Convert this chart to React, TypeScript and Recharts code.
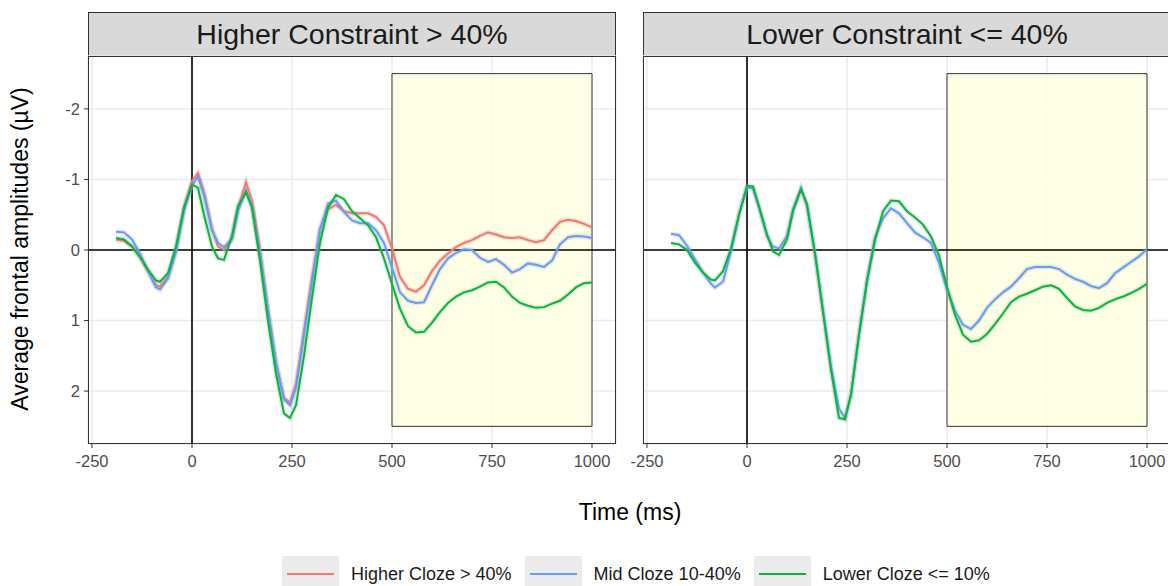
import React from "react";
import {
  LineChart,
  Line,
  XAxis,
  YAxis,
  CartesianGrid,
  ReferenceArea,
  ReferenceLine,
} from "recharts";

// time points (ms)
const TIMES = [
  -190, -170, -150, -130, -110, -90, -80, -60, -40, -20,
  0, 15, 30, 50, 65, 80, 100, 115, 135, 150,
  170, 190, 210, 230, 245, 260, 280, 300, 320, 340,
  360, 380, 400, 420, 440, 460, 480, 500, 520, 540,
  560, 580, 600, 620, 640, 660, 680, 700, 720, 740,
  760, 780, 800, 820, 840, 860, 880, 900, 920, 940,
  960, 980, 1000,
];

// Higher Constraint panel
const HC_HIGHER = [
  -0.15, -0.13, -0.05, 0.1, 0.3, 0.5, 0.52, 0.38, 0.0, -0.6,
  -0.98, -1.09, -0.82, -0.3, -0.05, 0.0, -0.17, -0.6, -0.96, -0.7,
  0.0, 0.85, 1.6, 2.1, 2.16, 1.9, 1.15, 0.4, -0.3, -0.58,
  -0.64, -0.55, -0.52, -0.52, -0.52, -0.47, -0.35, -0.02, 0.38, 0.55,
  0.59, 0.5, 0.3, 0.15, 0.05, -0.04, -0.1, -0.14, -0.2, -0.25,
  -0.22, -0.18, -0.17, -0.18, -0.14, -0.11, -0.14, -0.28, -0.4, -0.43,
  -0.41, -0.37, -0.32,
];
const HC_MID = [
  -0.26, -0.25, -0.15, 0.05, 0.3, 0.53, 0.56, 0.4, 0.02, -0.56,
  -0.92, -1.04, -0.78, -0.28, -0.1, -0.04, -0.15, -0.55, -0.85, -0.62,
  0.05, 0.85, 1.6, 2.12, 2.2, 1.95, 1.2, 0.45, -0.28, -0.66,
  -0.7, -0.54, -0.42, -0.38, -0.38, -0.28, -0.1, 0.25, 0.6, 0.72,
  0.75, 0.74, 0.5, 0.27, 0.12, 0.04, -0.01, 0.0, 0.11, 0.17,
  0.13, 0.21, 0.32, 0.27, 0.19, 0.21, 0.24, 0.15, -0.08, -0.18,
  -0.2, -0.19, -0.17,
];
const HC_LOWER = [
  -0.17, -0.15, -0.05, 0.1, 0.28, 0.43, 0.45, 0.33, -0.05, -0.6,
  -0.93, -0.88, -0.5, -0.05, 0.12, 0.14, -0.2, -0.62, -0.82, -0.6,
  0.15, 1.0, 1.75, 2.32, 2.38, 2.2, 1.5, 0.68, -0.1, -0.6,
  -0.78, -0.72, -0.55, -0.45, -0.35, -0.18, 0.12, 0.48, 0.83, 1.08,
  1.17, 1.16, 1.03, 0.88, 0.75, 0.66, 0.6, 0.57, 0.52, 0.46,
  0.45, 0.53, 0.66, 0.75, 0.79, 0.82, 0.81, 0.76, 0.72, 0.63,
  0.53, 0.47, 0.46,
];

// Lower Constraint panel
const LC_MID = [
  -0.23, -0.21, -0.06, 0.13, 0.32, 0.48, 0.53, 0.45, 0.02, -0.5,
  -0.89, -0.87, -0.6, -0.2, -0.05, -0.02, -0.2, -0.58, -0.88, -0.62,
  0.05, 0.85, 1.65, 2.25, 2.38, 2.05, 1.2, 0.42, -0.18, -0.45,
  -0.59, -0.52, -0.38, -0.25, -0.18, -0.1, 0.18, 0.57, 0.86, 1.06,
  1.12, 1.0, 0.82, 0.7, 0.6, 0.52, 0.4, 0.27, 0.24, 0.24,
  0.24, 0.27, 0.35, 0.41, 0.45, 0.51, 0.54, 0.47, 0.33, 0.25,
  0.17, 0.09, -0.01,
];
const LC_LOWER = [
  -0.1, -0.08, 0.0, 0.18, 0.32, 0.42, 0.43, 0.3, -0.02, -0.5,
  -0.91, -0.9, -0.62, -0.22, 0.02, 0.07, -0.15, -0.55, -0.86, -0.65,
  0.05, 0.88, 1.7, 2.38, 2.4, 2.05, 1.2, 0.45, -0.14, -0.55,
  -0.7, -0.69, -0.55, -0.46, -0.36, -0.19, 0.08, 0.52, 0.92, 1.2,
  1.3, 1.28, 1.19, 1.05, 0.9, 0.74, 0.66, 0.62, 0.57, 0.52,
  0.5, 0.55, 0.68, 0.8, 0.85, 0.86, 0.82, 0.75, 0.7, 0.66,
  0.61, 0.55, 0.48,
];

const X_TICKS = [-250, 0, 250, 500, 750, 1000];
const Y_TICKS = [-2, -1, 0, 1, 2];

const SERIES = [
  { key: "higher", name: "Higher Cloze > 40%", color: "#F8766D" },
  { key: "mid", name: "Mid Cloze 10-40%", color: "#619CFF" },
  { key: "lower", name: "Lower Cloze <= 10%", color: "#00BA38" },
];

const FONT = "'Liberation Sans', Arial, Helvetica, sans-serif";

const leftData = TIMES.map((t, i) => ({
  t,
  higher: HC_HIGHER[i],
  mid: HC_MID[i],
  lower: HC_LOWER[i],
}));
const rightData = TIMES.map((t, i) => ({
  t,
  mid: LC_MID[i],
  lower: LC_LOWER[i],
}));

const PLOT_TOP = 56;
const PLOT_W = 528;
const PLOT_H = 388;

function Panel({
  title,
  data,
  keys,
  plotLeft,
  showY,
}: {
  title: string;
  data: any[];
  keys: string[];
  plotLeft: number;
  showY: boolean;
}) {
  const chartLeft = plotLeft - 88;
  return (
    <>
      <div
        style={{
          position: "absolute",
          left: plotLeft,
          top: 12,
          width: PLOT_W,
          height: 45,
          boxSizing: "border-box",
          border: "1px solid #333",
          background: "#d9d9d9",
          display: "flex",
          alignItems: "center",
          justifyContent: "center",
          fontSize: 28.5,
          color: "#1a1a1a",
          fontFamily: FONT,
        }}
      >
        {title}
      </div>
      <div style={{ position: "absolute", left: chartLeft, top: 0 }}>
        <LineChart
          width={88 + PLOT_W + 4}
          height={PLOT_TOP + PLOT_H + 40}
          data={data}
          margin={{ top: PLOT_TOP, right: 4, left: showY ? 0 : 88, bottom: 0 }}
        >
          <CartesianGrid stroke="#ebebeb" strokeWidth={1.5} />
          <XAxis
            dataKey="t"
            type="number"
            domain={[-260, 1060]}
            ticks={X_TICKS}
            allowDataOverflow
            height={40}
            axisLine={false}
            tickSize={4}
            tickMargin={7}
            tickLine={{ stroke: "#333" }}
            tick={{ fill: "#4d4d4d", fontSize: 16.5, fontFamily: FONT }}
          />
          <YAxis
            type="number"
            domain={[-2.75, 2.75]}
            ticks={Y_TICKS}
            reversed
            allowDataOverflow
            hide={!showY}
            width={88}
            axisLine={false}
            tickSize={4}
            tickMargin={4}
            tickLine={{ stroke: "#333" }}
            tick={{ fill: "#4d4d4d", fontSize: 16.5, fontFamily: FONT }}
          />
          <ReferenceArea
            x1={500}
            x2={1000}
            y1={-2.5}
            y2={2.5}
            fill="#ffffe0"
            fillOpacity={0.85}
            stroke="#333"
            strokeWidth={1}
            strokeOpacity={1}
          />
          <ReferenceLine x={0} stroke="#000" strokeWidth={1.6} />
          <ReferenceLine y={0} stroke="#000" strokeWidth={1.6} />
          {keys.map((k) => (
            <Line
              key={k + "-band"}
              dataKey={k}
              type="linear"
              dot={false}
              stroke="#9e9e9e"
              strokeOpacity={0.25}
              strokeWidth={5}
              isAnimationActive={false}
            />
          ))}
          {keys.map((k) => (
            <Line
              key={k}
              dataKey={k}
              type="linear"
              dot={false}
              stroke={SERIES.find((s) => s.key === k)!.color}
              strokeWidth={2}
              isAnimationActive={false}
            />
          ))}
        </LineChart>
      </div>
      <div
        style={{
          position: "absolute",
          left: plotLeft,
          top: PLOT_TOP,
          width: PLOT_W,
          height: PLOT_H,
          boxSizing: "border-box",
          border: "1px solid #333",
          pointerEvents: "none",
        }}
      />
    </>
  );
}

export default function App() {
  return (
    <div
      style={{
        position: "absolute",
        left: 0,
        top: 0,
        width: 1168,
        height: 586,
        overflow: "hidden",
        background: "#fff",
        fontFamily: FONT,
      }}
    >
      <Panel
        title="Higher Constraint > 40%"
        data={leftData}
        keys={["higher", "mid", "lower"]}
        plotLeft={88}
        showY
      />
      <Panel
        title="Lower Constraint <= 40%"
        data={rightData}
        keys={["mid", "lower"]}
        plotLeft={643}
        showY={false}
      />
      <div
        style={{
          position: "absolute",
          left: 20,
          top: 249,
          transform: "translate(-50%, -50%) rotate(-90deg)",
          whiteSpace: "nowrap",
          fontSize: 23,
          color: "#000",
        }}
      >
        Average frontal amplitudes (µV)
      </div>
      <div
        style={{
          position: "absolute",
          left: 630,
          top: 512,
          transform: "translate(-50%, -50%)",
          whiteSpace: "nowrap",
          fontSize: 23,
          color: "#000",
        }}
      >
        Time (ms)
      </div>
      <div
        style={{
          position: "absolute",
          left: 282,
          top: 556,
          display: "flex",
          alignItems: "flex-start",
        }}
      >
        {SERIES.map((s) => (
          <div
            key={s.key}
            style={{ display: "flex", alignItems: "center", marginRight: 13 }}
          >
            <div
              style={{
                width: 57,
                height: 36,
                background: "#ebebeb",
                display: "flex",
                alignItems: "center",
                justifyContent: "center",
              }}
            >
              <div style={{ width: 47, height: 2, background: s.color }} />
            </div>
            <span
              style={{ marginLeft: 12, fontSize: 18, color: "#1a1a1a" }}
            >
              {s.name}
            </span>
          </div>
        ))}
      </div>
    </div>
  );
}
